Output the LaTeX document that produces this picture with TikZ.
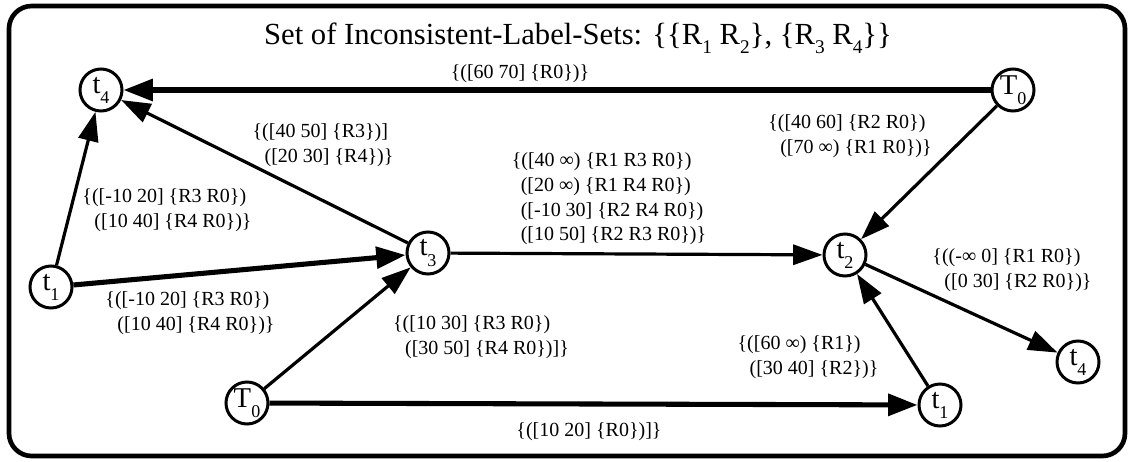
\documentclass[tikz,border=0pt]{standalone}
\usepackage{fontspec}
\setmainfont{Liberation Serif}
\usetikzlibrary{arrows.meta}
\tikzset{%
  c/.style = {circle,draw,line width=2.25pt,minimum size=31.5pt,
        inner sep=0pt,font=\fontsize{21.5}{21.5}\selectfont},
  lbl/.style = {align=left,inner sep=0pt,
        font=\fontsize{15}{18.5}\selectfont},
  normarrow/.style = {-{Triangle[length=22pt,width=15pt]},line width=2.4pt},
  heavyarrow/.style = {-{Triangle[length=22pt,width=16pt]},line width=3.8pt}
}
\newcommand{\tsub}[2]{#1\raisebox{-0.35em}{\fontsize{13.5}{13.5}\selectfont #2}}
\newcommand{\rsub}[2]{#1\raisebox{-0.3em}{\fontsize{14.5}{14.5}\selectfont #2}}
\newcommand{\ind}{\hspace*{0.6em}}

\begin{document}
\begin{tikzpicture}[x=0.75pt,y=-0.75pt]
    \useasboundingbox (0,0) rectangle (1132,461);
    \draw[line width=3.5pt,rounded corners=17pt] (9,6) rectangle (1125,456);
    \node[font=\fontsize{23}{23}\selectfont] (title) at (578,38)
        {Set of Inconsistent-Label-Sets: \{\{\rsub{R}{1} \rsub{R}{2}\}, \{\rsub{R}{3} \rsub{R}{4}\}\}};
    % states
    \node[c] (t4a) at (101,90) {\tsub{t}{4}};
    \node[c] (T0a) at (1013,90) {\tsub{T}{0}};
    \node[c] (t1a) at (51,287) {\tsub{t}{1}};
    \node[c] (t3) at (428,253) {\tsub{t}{3}};
    \node[c] (t2) at (845,255) {\tsub{t}{2}};
    \node[c] (t4b) at (1078,362) {\tsub{t}{4}};
    \node[c] (T0b) at (247,403) {\tsub{T}{0}};
    \node[c] (t1b) at (940,405) {\tsub{t}{1}};
    % transitions
    \draw[heavyarrow] (T0a) -- (t4a);
    \draw[normarrow] (t3) -- (t4a);
    \draw[normarrow] (t1a) -- (t4a);
    \draw[heavyarrow] (t1a) -- (t3);
    \draw[normarrow] (T0b) -- (t3);
    \draw[normarrow] (t3) -- (t2);
    \draw[normarrow] (T0a) -- (t2);
    \draw[normarrow] (t1b) -- (t2);
    \draw[normarrow] (t2) -- (t4b);
    \draw[heavyarrow] (T0b) -- (t1b);
    % labels
    \node[lbl] (lT0at4a) at (520,74) {\{([60 70] \{R0\})\}};
    \node[lbl] (lt3t4a) at (323,145) {\{([40 50] \{R3\})]\\\ind([20 30] \{R4\})\}};
    \node[lbl] (lt1at4a) at (167,210) {\{([-10 20] \{R3 R0\})\\\ind([10 40] \{R4 R0\})\}};
    \node[lbl] (lt1at3) at (190,313) {\{([-10 20] \{R3 R0\})\\\ind([10 40] \{R4 R0\})\}};
    \node[lbl] (lT0bt3) at (481,337) {\{([10 30] \{R3 R0\})\\\ind([30 50] \{R4 R0\})]\}};
    \node[lbl] (lt3t2) at (609,199) {\{([40 ∞) \{R1 R3 R0\})\\\hspace*{0.45em}([20 ∞) \{R1 R4 R0\})\\\hspace*{0.45em}([-10 30] \{R2 R4 R0\})\\\hspace*{0.45em}([10 50] \{R2 R3 R0\})\}};
    \node[lbl] (lT0at2) at (850,136) {\{([40 60] \{R2 R0\})\\\ind([70 ∞) \{R1 R0\})\}};
    \node[lbl] (lt1bt2) at (808,357) {\{([60 ∞) \{R1\})\\\ind([30 40] \{R2\})\}};
    \node[lbl] (lt2t4b) at (1012,270) {\{((-∞ 0] \{R1 R0\})\\\ind([0 30] \{R2 R0\})\}};
    \node[lbl] (lT0bt1b) at (589,432) {\{([10 20] \{R0\})]\}};
\end{tikzpicture}
\end{document}
